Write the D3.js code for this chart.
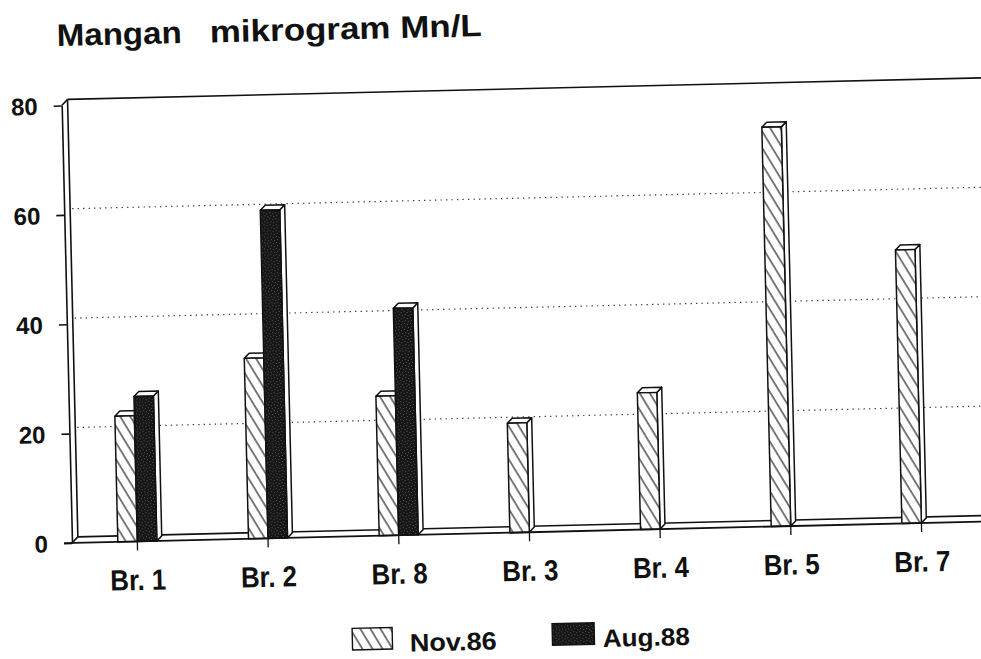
<!DOCTYPE html>
<html>
<head>
<meta charset="utf-8">
<script src="https://cdn.jsdelivr.net/npm/d3@7"></script>
<style>
  html, body { margin: 0; padding: 0; background: #fff; }
  svg { display: block; }
  text { font-family: "Liberation Sans", Arial, Helvetica, sans-serif; fill: #111; }
</style>
</head>
<body>
<svg id="chart" width="981" height="659"></svg>
<script>
// ---- data ----
const categories = ["Br. 1", "Br. 2", "Br. 8", "Br. 3", "Br. 4", "Br. 5", "Br. 7"];
const seriesNames = ["Nov.86", "Aug.88"];
const nov86 = [23, 33, 25.5, 20, 25, 73, 50];
const aug88 = [26.5, 60, 41.5, null, null, null, null];
const yTicks = [0, 20, 40, 60, 80];
const titleParts = ["Mangan", "mikrogram Mn/L"];

// ---- layout ----
const W = 981, H = 659;
const x0 = 72, x1 = 987, yBase = 543, yTop = 105.4;
const depth = 6;      // back wall offset
const bdepth = 5;     // bar depth
const barW = 19.5;

const svg = d3.select("#chart");
const defs = svg.append("defs");

// hatch pattern (lines top-left to bottom-right)
const hatch = defs.append("pattern")
  .attr("id", "hatch").attr("patternUnits", "userSpaceOnUse")
  .attr("width", 8.6).attr("height", 10)
  .attr("patternTransform", "rotate(-30)");
hatch.append("rect").attr("width", 8.6).attr("height", 10).attr("fill", "#fff");
hatch.append("line").attr("x1", 1).attr("y1", 0).attr("x2", 1).attr("y2", 10)
  .attr("stroke", "#111").attr("stroke-width", 1.1);

// stippled dark pattern
const dark = defs.append("pattern")
  .attr("id", "dark").attr("patternUnits", "userSpaceOnUse")
  .attr("width", 6).attr("height", 6);
dark.append("rect").attr("width", 6).attr("height", 6).attr("fill", "#161616");
[[1,1],[4,2],[2,4],[5,5]].forEach(p => {
  dark.append("rect").attr("x", p[0]).attr("y", p[1]).attr("width", 1).attr("height", 1).attr("fill", "#5a5a5a");
});

const g = svg.append("g").attr("transform", `rotate(-1.35, ${x0}, ${yBase})`);

const x = d3.scaleBand().domain(categories).range([x0, x1]).paddingInner(0).paddingOuter(0);
const y = d3.scaleLinear().domain([0, 80]).range([yBase, yTop]);

// ---- title ----
g.append("text").attr("x", 68.7).attr("y", 45.8)
  .attr("font-size", 31).attr("font-weight", "bold")
  .attr("textLength", 125).attr("lengthAdjust", "spacingAndGlyphs")
  .text(titleParts[0]);
g.append("text").attr("x", 221.8).attr("y", 45.8)
  .attr("font-size", 31).attr("font-weight", "bold")
  .attr("textLength", 272).attr("lengthAdjust", "spacingAndGlyphs")
  .text(titleParts[1]);

// ---- back wall & floor ----
const bx = x0 + depth, bTop = yTop - depth, bBot = yBase - depth, bRight = x1 + depth;
const frame = g.append("g").attr("fill", "none").attr("stroke", "#111").attr("stroke-width", 1.6);
frame.append("line").attr("x1", bx).attr("y1", bTop).attr("x2", bRight + 20).attr("y2", bTop);
frame.append("line").attr("x1", bx).attr("y1", bTop).attr("x2", bx).attr("y2", bBot);
frame.append("line").attr("x1", bx).attr("y1", bBot).attr("x2", bRight + 20).attr("y2", bBot);
frame.append("line").attr("x1", x0).attr("y1", yBase).attr("x2", bx).attr("y2", bBot);
frame.append("line").attr("x1", x0).attr("y1", yTop).attr("x2", bx).attr("y2", bTop);

// gridlines on back wall
g.append("g").selectAll("line").data(yTicks.filter(v => v > 0 && v < 80)).join("line")
  .attr("x1", bx + 2).attr("x2", bRight + 20)
  .attr("y1", d => y(d) - depth).attr("y2", d => y(d) - depth)
  .attr("stroke", "#333").attr("stroke-width", 1.2)
  .attr("stroke-dasharray", "1.3 4.2");

// ---- bars ----
function bar3d(sel, bx0, v, fill) {
  const yt = y(v);
  const bg = sel.append("g").attr("stroke", "#111").attr("stroke-width", 1.5).attr("stroke-linejoin", "round");
  // side face
  bg.append("polygon")
    .attr("points", [[bx0 + barW, yt], [bx0 + barW + bdepth, yt - bdepth], [bx0 + barW + bdepth, yBase - bdepth], [bx0 + barW, yBase]].map(p => p.join(",")).join(" "))
    .attr("fill", "#fff");
  // top face
  bg.append("polygon")
    .attr("points", [[bx0, yt], [bx0 + bdepth, yt - bdepth], [bx0 + barW + bdepth, yt - bdepth], [bx0 + barW, yt]].map(p => p.join(",")).join(" "))
    .attr("fill", "#fff");
  // front face
  bg.append("rect").attr("x", bx0).attr("y", yt).attr("width", barW).attr("height", yBase - yt)
    .attr("fill", fill);
}

const barsG = g.append("g");
categories.forEach((c, i) => {
  const cx = x(c) + x.bandwidth() / 2;
  if (nov86[i] != null) bar3d(barsG, cx - barW, nov86[i], "url(#hatch)");
  if (aug88[i] != null) bar3d(barsG, cx, aug88[i], "url(#dark)");
});

// ---- axes ----
const yAxis = g.append("g").attr("transform", `translate(${x0},0)`)
  .call(d3.axisLeft(y).tickValues(yTicks).tickSize(8).tickSizeOuter(0).tickPadding(16).tickFormat(d3.format("d")));
yAxis.select(".domain").attr("stroke", "#111").attr("stroke-width", 1.6);
yAxis.selectAll(".tick line").attr("stroke", "#111").attr("stroke-width", 1.6);
yAxis.selectAll(".tick text").attr("font-size", 24).attr("font-weight", "bold")
  .attr("font-family", "Liberation Sans, Arial, sans-serif").attr("fill", "#111")
  .attr("dy", "0.35em");

const xAxis = g.append("g").attr("transform", `translate(0,${yBase})`)
  .call(d3.axisBottom(x).tickSize(9).tickSizeOuter(0));
xAxis.select(".domain").attr("stroke", "#111").attr("stroke-width", 1.8).attr("d", `M${x0 - 8},0H${x1 + 20}`);
xAxis.selectAll(".tick line").attr("stroke", "#111").attr("stroke-width", 1.3);
xAxis.selectAll(".tick text").attr("font-size", 29).attr("font-weight", "bold")
  .attr("font-family", "Liberation Sans, Arial, sans-serif").attr("fill", "#111")
  .attr("y", 48.5).attr("dy", 0)
  .attr("textLength", 56).attr("lengthAdjust", "spacingAndGlyphs");

// ---- legend ----
const leg = g.append("g");
const legendItems = [
  { name: seriesNames[0], fill: "url(#hatch)", sx: 350, sw: 40, tx: 407.3 },
  { name: seriesNames[1], fill: "url(#dark)", sx: 550, sw: 42, tx: 600.4 }
];
legendItems.forEach(d => {
  leg.append("rect").attr("x", d.sx).attr("y", 635).attr("width", d.sw).attr("height", 21.5)
    .attr("fill", d.fill).attr("stroke", "#111").attr("stroke-width", 1.4);
  leg.append("text").attr("x", d.tx).attr("y", 659.5)
    .attr("font-size", 25).attr("font-weight", "bold")
    .attr("textLength", 87).attr("lengthAdjust", "spacingAndGlyphs")
    .text(d.name);
});
</script>
</body>
</html>
